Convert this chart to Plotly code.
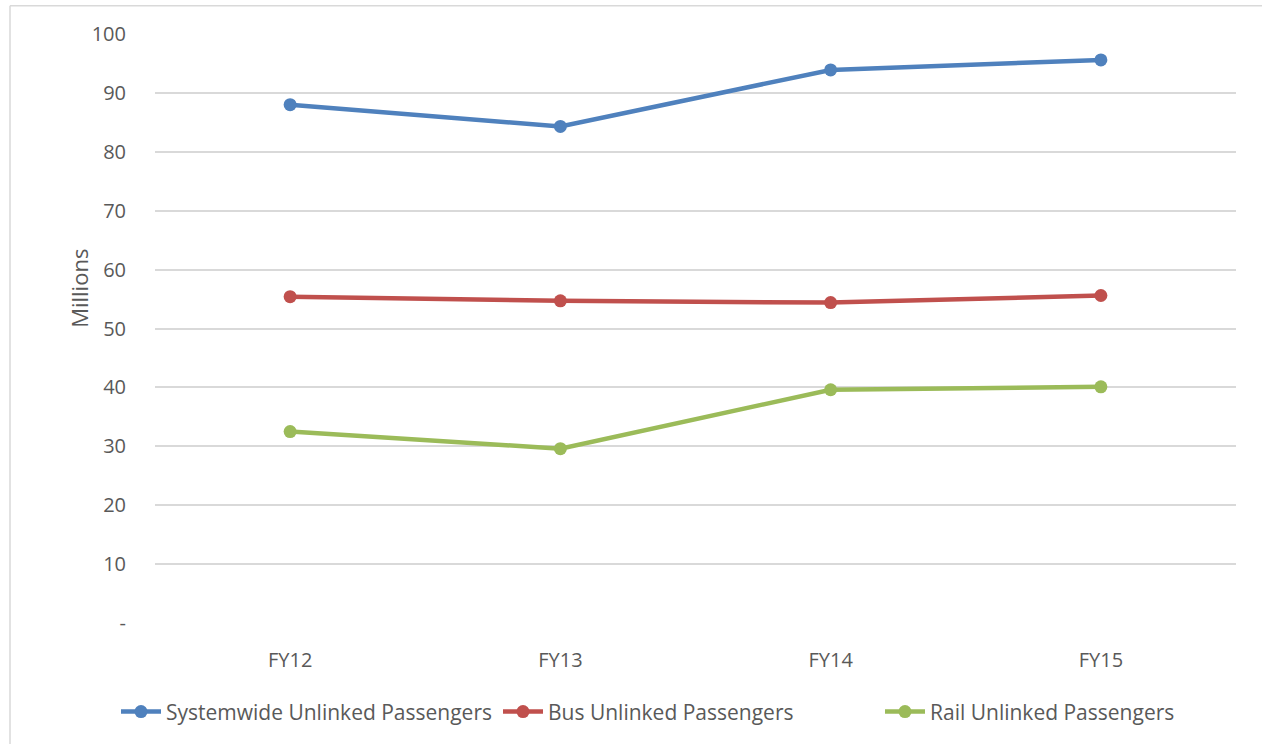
import plotly.graph_objects as go

# Fiscal years and unlinked passenger trips (millions)
fiscal_years = ["FY12", "FY13", "FY14", "FY15"]
systemwide = [88.0, 84.3, 93.9, 95.6]
bus = [55.4, 54.7, 54.4, 55.6]
rail = [32.5, 29.6, 39.6, 40.1]

y_tick_values = [0, 10, 20, 30, 40, 50, 60, 70, 80, 90, 100]
y_tick_labels = ["-", "10", "20", "30", "40", "50", "60", "70", "80", "90", "100"]

series = [
    ("Systemwide Unlinked Passengers", systemwide, "#4F81BD"),
    ("Bus Unlinked Passengers", bus, "#C0504D"),
    ("Rail Unlinked Passengers", rail, "#9BBB59"),
]

fig = go.Figure()
for name, values, color in series:
    fig.add_trace(go.Scatter(
        x=fiscal_years, y=values, name=name, mode="lines+markers",
        line=dict(color=color, width=4.5),
        marker=dict(color=color, size=13),
    ))

W, H = 1262, 744
ml, mr, mt, mb = 155, 26, 34, 116
pw, ph = W - ml - mr, H - mt - mb

def px_to_paper_x(px):
    return (px - ml) / pw

def px_to_paper_y(py):
    return (H - mb - py) / ph

# light chart-area frame
frame_color = "#D9D9D9"
fig.add_shape(type="line", xref="paper", yref="paper",
              x0=px_to_paper_x(10), x1=px_to_paper_x(1270),
              y0=px_to_paper_y(5.5), y1=px_to_paper_y(5.5),
              line=dict(color=frame_color, width=1.5))
fig.add_shape(type="line", xref="paper", yref="paper",
              x0=px_to_paper_x(10), x1=px_to_paper_x(10),
              y0=px_to_paper_y(5.5), y1=px_to_paper_y(760),
              line=dict(color=frame_color, width=1.5))

# vertical axis caption
fig.add_annotation(text="Millions", xref="paper", yref="paper",
                   x=px_to_paper_x(79), y=px_to_paper_y(291),
                   xanchor="center", yanchor="middle", textangle=-90,
                   showarrow=False, font=dict(size=22, color="#595959"))

font_family = "Open Sans, Arial, sans-serif"
fig.update_layout(
    width=W, height=H,
    margin=dict(l=ml, r=mr, t=mt, b=mb),
    paper_bgcolor="white", plot_bgcolor="white",
    font=dict(family=font_family, color="#595959", size=20),
    showlegend=True,
    legend=dict(orientation="h", x=px_to_paper_x(125), xanchor="left",
                y=px_to_paper_y(697), yanchor="top",
                font=dict(size=21, color="#595959"),
                itemwidth=40, entrywidth=327, entrywidthmode="pixels"),
    xaxis=dict(range=[-0.5, 3.5], showgrid=False, zeroline=False,
               showline=False, ticks="", ticklabelstandoff=23,
               tickfont=dict(size=20)),
    yaxis=dict(range=[0, 100], tickvals=y_tick_values, ticktext=y_tick_labels,
               showgrid=True, gridcolor="#D9D9D9", gridwidth=1.5,
               zeroline=False, showline=False, ticks="",
               ticklabelstandoff=28,
               tickfont=dict(size=20)),
)

fig.write_html("out.html")
